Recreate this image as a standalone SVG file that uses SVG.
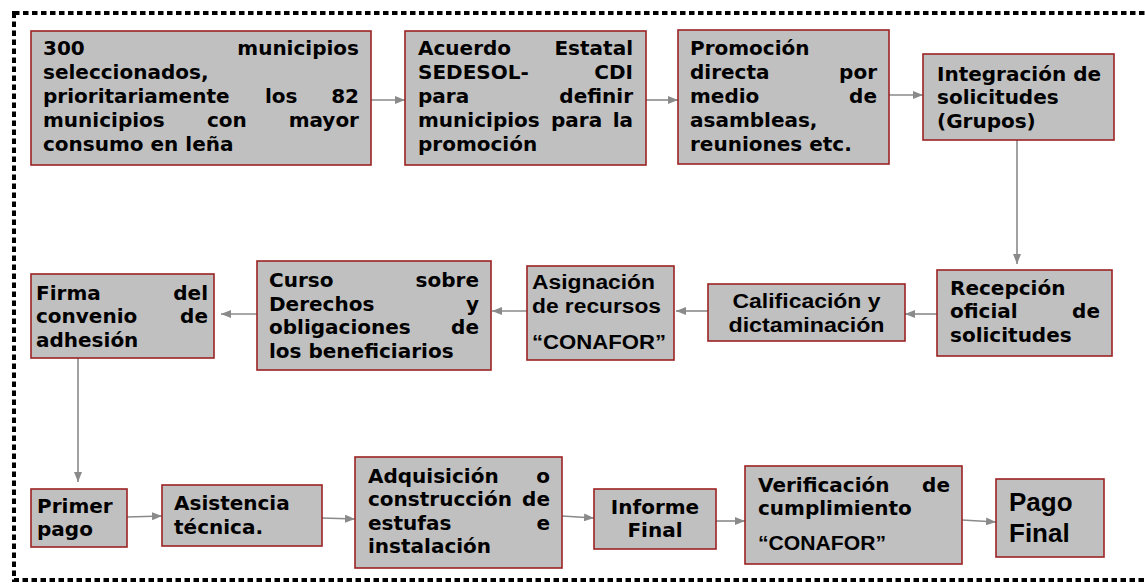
<svg xmlns="http://www.w3.org/2000/svg" width="1145" height="583" viewBox="0 0 1145 583">
<style>
.box{fill:#c0c0c0;stroke:#9c2222;stroke-width:1.6}
.t{font-family:"DejaVu Sans",Verdana,sans-serif;font-weight:bold;font-size:20px;fill:#000}
.c{font-family:"Liberation Sans",Arial,sans-serif;font-weight:bold;font-size:20px;fill:#000}
.p{font-family:"Liberation Sans",Arial,sans-serif;font-weight:bold;font-size:26px;fill:#000}
.e{text-anchor:end}
.m{text-anchor:middle}
.conn line{stroke:#8a8a8a;stroke-width:1.6;marker-end:url(#ah)}
.frame{fill:none;stroke:#000;stroke-width:4;stroke-dasharray:5.5 3.5}
</style>
<defs>
<marker id="ah" markerWidth="10" markerHeight="8" refX="10" refY="4" orient="auto" markerUnits="userSpaceOnUse">
<path d="M0,0 L10,4 L0,8 z" fill="#8a8a8a"/>
</marker>
</defs>
<rect width="1145" height="583" fill="#fff"/>
<rect class="frame" x="14" y="13" width="1150" height="567"/>

<g class="conn">
<line x1="371" y1="100" x2="405" y2="100"/>
<line x1="646" y1="100" x2="678" y2="100"/>
<line x1="889" y1="95" x2="923" y2="95"/>
<line x1="1017" y1="140" x2="1017" y2="264"/>
<line x1="937" y1="314" x2="905" y2="314"/>
<line x1="708" y1="311" x2="676" y2="311"/>
<line x1="527" y1="311" x2="492" y2="311"/>
<line x1="257" y1="314" x2="221" y2="314"/>
<line x1="78" y1="358" x2="78" y2="482"/>
<line x1="127" y1="517" x2="162" y2="516"/>
<line x1="322" y1="518" x2="355" y2="519"/>
<line x1="562" y1="516" x2="594" y2="518"/>
<line x1="716" y1="521" x2="745" y2="521"/>
<line x1="962" y1="520" x2="996" y2="522"/>
</g>

<g id="n1">
<rect class="box" x="31" y="31" width="340" height="134"/>
<text class="t" x="43" y="55">300</text><text class="t e" x="359" y="55">municipios</text>
<text class="t" x="43" y="79">seleccionados,</text>
<text class="t" x="43" y="103">prioritariamente</text><text class="t" x="265" y="103">los</text><text class="t e" x="359" y="103">82</text>
<text class="t" x="43" y="127">municipios</text><text class="t" x="207" y="127">con</text><text class="t e" x="359" y="127">mayor</text>
<text class="t" x="43" y="151">consumo en leña</text>
</g>

<g id="n2">
<rect class="box" x="405" y="31" width="241" height="134"/>
<text class="t" x="418" y="55">Acuerdo</text><text class="t e" x="633" y="55">Estatal</text>
<text class="t" x="418" y="79">SEDESOL-</text><text class="t e" x="633" y="79">CDI</text>
<text class="t" x="418" y="103">para</text><text class="t e" x="633" y="103">definir</text>
<text class="t" x="418" y="127">municipios</text><text class="t" x="551" y="127">para</text><text class="t e" x="633" y="127">la</text>
<text class="t" x="418" y="151">promoción</text>
</g>

<g id="n3">
<rect class="box" x="678" y="30" width="211" height="134"/>
<text class="t" x="690" y="55">Promoción</text>
<text class="t" x="690" y="79">directa</text><text class="t e" x="877" y="79">por</text>
<text class="t" x="690" y="103">medio</text><text class="t e" x="877" y="103">de</text>
<text class="t" x="690" y="127">asambleas,</text>
<text class="t" x="690" y="151">reuniones etc.</text>
</g>

<g id="n4">
<rect class="box" x="923" y="54" width="191" height="86"/>
<text class="t" x="937" y="81">Integración de</text>
<text class="t" x="937" y="104">solicitudes</text>
<text class="t" x="937" y="128">(Grupos)</text>
</g>

<g id="n5">
<rect class="box" x="937" y="270" width="175" height="86"/>
<text class="t" x="950" y="295">Recepción</text>
<text class="t" x="950" y="318">oficial</text><text class="t e" x="1100" y="318">de</text>
<text class="t" x="950" y="342">solicitudes</text>
</g>

<g id="n6">
<rect class="box" x="708" y="284" width="197" height="57"/>
<text class="c m" x="806.5" y="308" textLength="148" lengthAdjust="spacingAndGlyphs">Calificación y</text>
<text class="c m" x="806.5" y="332" textLength="156" lengthAdjust="spacingAndGlyphs">dictaminación</text>
</g>

<g id="n7">
<rect class="box" x="527" y="266" width="147" height="94"/>
<text class="c" x="532" y="289" textLength="123" lengthAdjust="spacingAndGlyphs">Asignación</text>
<text class="c" x="532" y="313" textLength="129" lengthAdjust="spacingAndGlyphs">de recursos</text>
<text class="c" x="532" y="349" textLength="134" lengthAdjust="spacingAndGlyphs">“CONAFOR”</text>
</g>

<g id="n8">
<rect class="box" x="257" y="261" width="234" height="109"/>
<text class="t" x="269" y="287">Curso</text><text class="t e" x="479" y="287">sobre</text>
<text class="t" x="269" y="311">Derechos</text><text class="t e" x="479" y="311">y</text>
<text class="t" x="269" y="334">obligaciones</text><text class="t e" x="479" y="334">de</text>
<text class="t" x="269" y="358">los beneficiarios</text>
</g>

<g id="n9">
<rect class="box" x="31" y="274" width="183" height="84"/>
<text class="t" x="36" y="300">Firma</text><text class="t e" x="208" y="300">del</text>
<text class="t" x="36" y="323">convenio</text><text class="t e" x="208" y="323">de</text>
<text class="t" x="36" y="347">adhesión</text>
</g>

<g id="n10">
<rect class="box" x="31" y="489" width="96" height="58"/>
<text class="t" x="37" y="513">Primer</text>
<text class="t" x="37" y="536">pago</text>
</g>

<g id="n11">
<rect class="box" x="162" y="485" width="160" height="61"/>
<text class="t" x="174" y="510">Asistencia</text>
<text class="t" x="174" y="534">técnica.</text>
</g>

<g id="n12">
<rect class="box" x="355" y="457" width="207" height="111"/>
<text class="t" x="368" y="483">Adquisición</text><text class="t e" x="550" y="483">o</text>
<text class="t" x="368" y="506">construcción</text><text class="t e" x="550" y="506">de</text>
<text class="t" x="368" y="530">estufas</text><text class="t e" x="550" y="530">e</text>
<text class="t" x="368" y="553">instalación</text>
</g>

<g id="n13">
<rect class="box" x="594" y="489" width="122" height="60"/>
<text class="t m" x="655" y="514">Informe</text>
<text class="t m" x="655" y="537">Final</text>
</g>

<g id="n14">
<rect class="box" x="745" y="466" width="217" height="98"/>
<text class="t" x="758" y="492">Verificación</text><text class="t e" x="950" y="492">de</text>
<text class="t" x="758" y="515">cumplimiento</text>
<text class="c" x="758" y="550" textLength="128" lengthAdjust="spacingAndGlyphs">“CONAFOR”</text>
</g>

<g id="n15">
<rect class="box" x="996" y="479" width="108" height="78"/>
<text class="p" x="1009" y="511">Pago</text>
<text class="p" x="1009" y="542">Final</text>
</g>
</svg>
